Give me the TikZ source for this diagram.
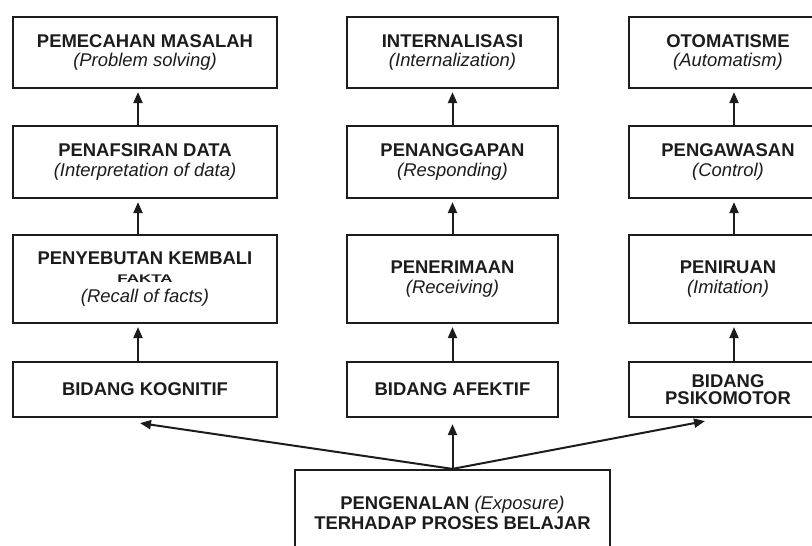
\documentclass[tikz,border=0pt]{standalone}
\usepackage{fontspec}
\setmainfont{Liberation Sans}
\usetikzlibrary{arrows.meta}
\definecolor{ink}{HTML}{1C1C1C}
\newcommand{\en}[1]{{\mdseries\itshape #1}}

\begin{document}
\begin{tikzpicture}[x=1bp,y=-1bp,
  box/.style={draw=ink, line width=2.2bp, fill=white, inner sep=0pt,
    align=center, text=ink, font=\bfseries\fontsize{18.5}{20}\selectfont},
  link/.style={draw=ink, line width=2bp,
    -{Triangle[length=11bp,width=9bp]}},
  up/.style={link, shorten >=3bp},
]

% page frame
\clip (0,0) rectangle (812,546);
\fill[white] (0,0) rectangle (812,546);

% --- cognitive column ---
\node[box, minimum width=264bp, minimum height=71bp] (k1) at (145,52.5)
  {PEMECAHAN MASALAH\\\en{(Problem solving)}};
\node[box, minimum width=264bp, minimum height=72bp] (k2) at (145,162)
  {PENAFSIRAN DATA\\\en{(Interpretation of data)}};
\node[box, minimum width=264bp, minimum height=88bp] (k3) at (145,279)
  {PENYEBUTAN KEMBALI\\[-2bp]\scalebox{0.92}[0.6]{FAKTA}\\[0bp]\en{(Recall of facts)}};
\node[box, minimum width=264bp, minimum height=55bp] (k4) at (145,389.5)
  {BIDANG KOGNITIF};

% --- affective column ---
\node[box, minimum width=211bp, minimum height=71bp] (a1) at (452.5,52.5)
  {INTERNALISASI\\\en{(Internalization)}};
\node[box, minimum width=211bp, minimum height=72bp] (a2) at (452.5,162)
  {PENANGGAPAN\\\en{(Responding)}};
\node[box, minimum width=211bp, minimum height=88bp] (a3) at (452.5,279)
  {PENERIMAAN\\\en{(Receiving)}};
\node[box, minimum width=211bp, minimum height=55bp] (a4) at (452.5,389.5)
  {BIDANG AFEKTIF};

% --- psychomotor column ---
\node[box, minimum width=198bp, minimum height=71bp] (p1) at (728,52.5)
  {OTOMATISME\\\en{(Automatism)}};
\node[box, minimum width=198bp, minimum height=72bp] (p2) at (728,162)
  {PENGAWASAN\\\en{(Control)}};
\node[box, minimum width=198bp, minimum height=88bp] (p3) at (728,279)
  {PENIRUAN\\\en{(Imitation)}};
\node[box, minimum width=198bp, minimum height=55bp,
      font=\bfseries\fontsize{18.5}{17.5}\selectfont] (p4) at (728,389.5)
  {BIDANG\\PSIKOMOTOR};

% --- root ---
\node[box, minimum width=315bp, minimum height=86bp] (root) at (452.5,513)
  {PENGENALAN \en{(Exposure)}\\TERHADAP PROSES BELAJAR};

% --- arrows up each column ---
\draw[up] ([xshift=-7bp]k2.north) -- ([xshift=-7bp]k1.south);
\draw[up] ([xshift=-7bp]k3.north) -- ([xshift=-7bp]k2.south);
\draw[up] ([xshift=-7bp]k4.north) -- ([xshift=-7bp]k3.south);

\draw[up] (a2.north) -- (a1.south);
\draw[up] (a3.north) -- (a2.south);
\draw[up] (a4.north) -- (a3.south);

\draw[up] ([xshift=6bp]p2.north) -- ([xshift=6bp]p1.south);
\draw[up] ([xshift=6bp]p3.north) -- ([xshift=6bp]p2.south);
\draw[up] ([xshift=6bp]p4.north) -- ([xshift=6bp]p3.south);

% --- arrows from the root to the three fields ---
\draw[link] (root.north) -- ([shift={(-5,5)}]k4.south);
\draw[link] (root.north) -- ([shift={(0,6)}]a4.south);
\draw[link] (root.north) -- ([shift={(-23,3)}]p4.south);
\end{tikzpicture}
\end{document}
